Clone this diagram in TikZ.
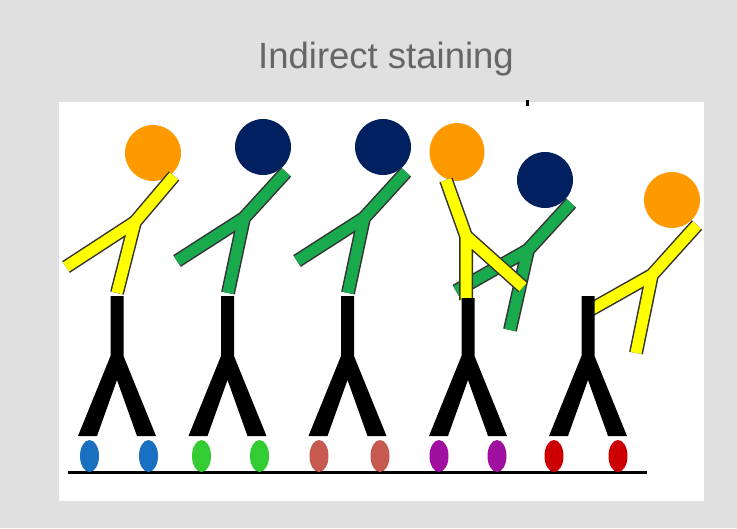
\documentclass[tikz,border=0pt]{standalone}
\usepackage{fontspec}
\setmainfont{Liberation Sans}
\usetikzlibrary{positioning, shapes.geometric}

\definecolor{pagegray}{HTML}{E0E0E0}
\definecolor{titlegray}{HTML}{666666}
\definecolor{dyeorange}{HTML}{FF9900}
\definecolor{dyenavy}{HTML}{002060}
\definecolor{abyellow}{HTML}{FFFF00}
\definecolor{abgreen}{HTML}{1AAA4E}
\definecolor{epblue}{HTML}{1A70C0}
\definecolor{epgreen}{HTML}{33CC33}
\definecolor{epbrick}{HTML}{C65A50}
\definecolor{eppurple}{HTML}{A010A0}
\definecolor{epred}{HTML}{CC0000}

% secondary antibody: colour, branch, stem end, arm to dye, free arm
\newcommand{\secab}[5]{%
  \draw[secline] (#3) -- (#2) -- (#4) (#2) -- (#5);
  \draw[secfill, #1] (#3) -- (#2) -- (#4) (#2) -- (#5);
}

\begin{document}
\begin{tikzpicture}[x=1pt, y=-1pt,
    secline/.style={line width=14pt, black!80, line join=round},
    secfill/.style={line width=11pt, line join=round},
    dye/.style={circle, minimum size=56pt, inner sep=0pt},
    epitope/.style={x radius=9.5pt, y radius=16pt}
  ]
  % page and panel
  \fill[pagegray] (0,0) rectangle (737,528);
  \fill[white] (59,102) rectangle (704,501);
  \node[text=titlegray, font=\fontsize{36.5}{40}\selectfont, anchor=base] (title) at (386,68) {Indirect staining};

  % surface with antigens
  \coordinate (s0) at (68,472);
  \coordinate (s1) at (647,472);
  \draw[line width=3pt] (s0) -- (s1);
  \foreach \x/\c in {89.5/epblue, 148.5/epblue, 201.5/epgreen, 259.5/epgreen,
                     319/epbrick, 380/epbrick, 439/eppurple, 497/eppurple,
                     554/epred, 618/epred}
    \fill[\c] (\x,456) ellipse [epitope];

  % fluorescent dyes
  \node[dye, fill=dyeorange] (d1) at (153,153) {};
  \node[dye, fill=dyenavy] (d2) at (263,147) {};
  \node[dye, fill=dyenavy] (d3) at (383,147) {};
  \node[dye, ellipse, fill=dyeorange, minimum width=55pt, minimum height=58pt] (d4) at (457,152) {};
  \node[dye, fill=dyenavy] (d5) at (545,180) {};
  \node[dye, fill=dyeorange] (d6) at (672,200) {};

  % secondary antibodies
  \secab{abyellow}{135,222}{117,293}{174,176}{66,267}
  \secab{abgreen}{244,218}{228,293}{286,172}{177,261}
  \secab{abgreen}{364,218}{348,293}{406,172}{297,261}
  \secab{abgreen}{528,250}{510,330}{571,203}{456,291}
  \secab{abyellow}{466,236}{466,300}{446,180}{523,287}
  \secab{abyellow}{652,275}{636,353}{697,225}{590,310}

  % primary antibodies, feet cut flat on the antigens
  \foreach \x/\t in {117/296, 227.5/296, 347.5/296, 468/298, 588/296}
    \fill (\x-6.5,\t) -- (\x+6.5,\t) -- (\x+6.5,356) -- (\x+39,436) -- (\x+20,436)
      -- (\x,380) -- (\x-20,436) -- (\x-39,436) -- (\x-6.5,356) -- cycle;
  \fill (525.5,100) rectangle (528.5,106);
\end{tikzpicture}
\end{document}
